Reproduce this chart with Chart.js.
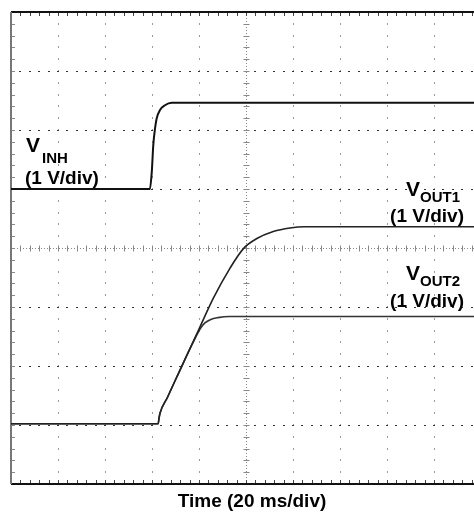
<!DOCTYPE html>
<html>
<head>
<meta charset="utf-8">
<script src="https://cdn.jsdelivr.net/npm/chart.js@4.4.1/dist/chart.umd.min.js"></script>
<style>
  html, body { margin: 0; padding: 0; background: #fff; }
  canvas { display: block; }
</style>
</head>
<body>
<canvas id="scope" width="474" height="515"></canvas>
<script>
// time in ms (20 ms/div), amplitude in screen divisions (0 = bottom edge)
var vinhTime = [0, 59.1, 59.9, 60.55, 61.3, 62.0, 63.4, 65.5, 68.4, 197];
var vinhDiv = [5.0, 5.0, 5.29, 5.75, 6.03, 6.20, 6.34, 6.42, 6.46, 6.46];

var vout1Time = [0, 62.6, 63.0, 63.4, 66.6, 69.8, 72.6, 75.4, 79.7, 86.1, 93.2, 98.9, 104.6, 111.6, 118.7, 125.0, 197];
var vout1Div = [1.02, 1.02, 1.12, 1.20, 1.47, 1.75, 1.99, 2.23, 2.60, 3.15, 3.66, 3.99, 4.16, 4.28, 4.34, 4.36, 4.36];

var vout2Time = [0, 62.6, 63.0, 63.4, 66.6, 69.8, 72.6, 75.4, 78.5, 80.5, 82.5, 85.0, 88.0, 93.0, 197];
var vout2Div = [1.02, 1.02, 1.12, 1.20, 1.47, 1.75, 1.99, 2.23, 2.48, 2.63, 2.73, 2.79, 2.82, 2.84, 2.84];

var xDivs = [0, 20, 40, 60, 80, 100, 120, 140, 160, 180];
var yDivs = [0, 1, 2, 3, 4, 5, 6, 7, 8];

var X_MAX = 197, MS_PER_DIV = 20, MINOR = 5;

function toPoints(xs, ys) {
    return xs.map(function(t, i) { return { x: t, y: ys[i] }; });
}

/**
 * Draws the oscilloscope graticule (dotted divisions, center cross, edge ticks).
 */
var graticule = {
    id: 'graticule',
    beforeDatasetsDraw: function(chart) {
        var ctx = chart.ctx, a = chart.chartArea;
        var xs = chart.scales.x, ys = chart.scales.y;
        var px, py, k;
        ctx.save();

        // vertical division lines: gray dots at minor steps
        xDivs.forEach(function(t) {
            if (t === 0 || t === 100) return;
            px = Math.round(xs.getPixelForValue(t));
            for (k = 0; k <= 8 * MINOR; k++) {
                py = ys.getPixelForValue(k / MINOR);
                ctx.fillStyle = '#9a9a9a';
                ctx.fillRect(px, Math.round(py) - 1, 1, 2);
            }
        });
        // horizontal division lines: dark dots at minor steps
        yDivs.forEach(function(v) {
            if (v === 0 || v === 8 || v === 4) return;
            py = Math.round(ys.getPixelForValue(v));
            for (k = 1; k * MS_PER_DIV / MINOR <= X_MAX; k++) {
                px = xs.getPixelForValue(k * MS_PER_DIV / MINOR);
                ctx.fillStyle = '#333';
                ctx.fillRect(Math.round(px) - 1, py, 2, 1);
            }
        });

        // center cross
        var cx = Math.round(xs.getPixelForValue(100)) + 0.5;
        var cy = Math.round(ys.getPixelForValue(4)) + 0.5;
        ctx.strokeStyle = '#888';
        ctx.lineWidth = 1;
        ctx.setLineDash([1, 2]);
        ctx.beginPath();
        ctx.moveTo(cx, a.top); ctx.lineTo(cx, a.bottom);
        ctx.moveTo(a.left, cy); ctx.lineTo(a.right, cy);
        ctx.stroke();
        ctx.setLineDash([]);
        ctx.beginPath();
        for (k = 1; k < 8 * MINOR; k++) {
            py = Math.round(ys.getPixelForValue(k / MINOR)) + 0.5;
            ctx.moveTo(cx - 3, py); ctx.lineTo(cx + 3, py);
        }
        for (k = 1; k * MS_PER_DIV / MINOR <= X_MAX; k++) {
            px = Math.round(xs.getPixelForValue(k * MS_PER_DIV / MINOR)) + 0.5;
            ctx.moveTo(px, cy - 3); ctx.lineTo(px, cy + 3);
        }
        ctx.stroke();

        // edge ticks
        ctx.strokeStyle = '#444';
        ctx.beginPath();
        for (k = 1; k * MS_PER_DIV / MINOR <= X_MAX; k++) {
            px = Math.round(xs.getPixelForValue(k * MS_PER_DIV / MINOR)) + 0.5;
            ctx.moveTo(px, a.top); ctx.lineTo(px, a.top + 4);
            ctx.moveTo(px, a.bottom); ctx.lineTo(px, a.bottom - 4);
        }
        ctx.stroke();
        ctx.strokeStyle = '#888';
        ctx.beginPath();
        for (k = 1; k < 8 * MINOR; k++) {
            py = Math.round(ys.getPixelForValue(k / MINOR)) + 0.5;
            ctx.moveTo(a.left, py); ctx.lineTo(a.left + 4, py);
        }
        ctx.stroke();

        // frame (right side runs off the picture)
        ctx.lineWidth = 2;
        ctx.strokeStyle = '#111';
        ctx.beginPath();
        ctx.moveTo(a.left, a.top); ctx.lineTo(a.right, a.top);
        ctx.moveTo(a.left, a.bottom); ctx.lineTo(a.right, a.bottom);
        ctx.stroke();
        ctx.strokeStyle = '#777';
        ctx.beginPath();
        ctx.moveTo(a.left, a.top); ctx.lineTo(a.left, a.bottom);
        ctx.stroke();
        ctx.restore();
    }
};

/**
 * Channel labels and the time base caption.
 */
var labels = {
    id: 'labels',
    afterDatasetsDraw: function(chart) {
        var ctx = chart.ctx;
        var big = 'bold 21px "Liberation Sans", Arial, sans-serif';
        var sub = 'bold 15px "Liberation Sans", Arial, sans-serif';
        var scale = 'bold 19px "Liberation Sans", Arial, sans-serif';
        ctx.save();
        ctx.fillStyle = '#000';
        ctx.textBaseline = 'alphabetic';

        ctx.textAlign = 'left';
        ctx.font = big; ctx.fillText('V', 26, 152);
        ctx.font = sub; ctx.fillText('INH', 42, 163);
        ctx.font = scale; ctx.fillText('(1 V/div)', 25, 184);

        ctx.font = big; ctx.fillText('V', 406, 196);
        ctx.font = sub; ctx.fillText('OUT1', 420, 202);
        ctx.font = big; ctx.fillText('V', 406, 280);
        ctx.font = sub; ctx.fillText('OUT2', 420, 286);

        ctx.textAlign = 'right';
        ctx.font = scale;
        ctx.fillText('(1 V/div)', 464, 222);
        ctx.fillText('(1 V/div)', 464, 307);

        ctx.textAlign = 'center';
        ctx.fillText('Time (20 ms/div)', 252, 507);
        ctx.restore();
    }
};

function traceStyle(data, width, color) {
    return {
        data: data,
        borderColor: color,
        borderWidth: width,
        pointRadius: 0,
        fill: false,
        cubicInterpolationMode: 'monotone'
    };
}

new Chart(document.getElementById('scope').getContext('2d'), {
    type: 'line',
    data: {
        datasets: [
            traceStyle(toPoints(vinhTime, vinhDiv), 2, '#111'),
            traceStyle(toPoints(vout1Time, vout1Div), 1.6, '#222'),
            traceStyle(toPoints(vout2Time, vout2Div), 1.6, '#333')
        ]
    },
    options: {
        responsive: false,
        animation: false,
        layout: { padding: { left: 11, top: 12, right: 0, bottom: 31 } },
        scales: {
            x: { type: 'linear', min: 0, max: X_MAX, display: false },
            y: { type: 'linear', min: 0, max: 8, display: false }
        },
        plugins: {
            legend: { display: false },
            tooltip: { enabled: false }
        }
    },
    plugins: [graticule, labels]
});
</script>
</body>
</html>
